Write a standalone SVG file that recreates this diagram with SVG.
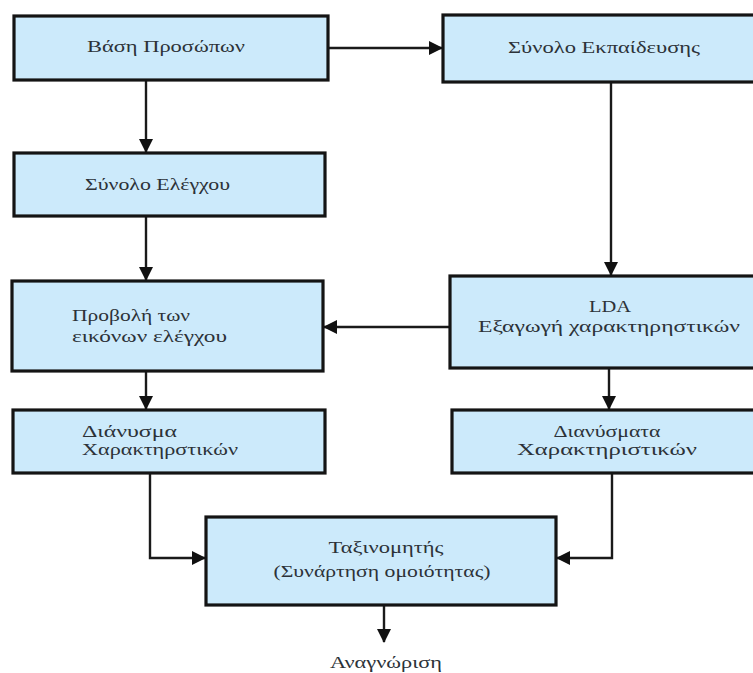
<svg xmlns="http://www.w3.org/2000/svg" width="753" height="673" viewBox="0 0 753 673">
  <defs>
    <marker id="arrow" viewBox="0 0 14 14" refX="13" refY="7" markerWidth="14" markerHeight="14" markerUnits="userSpaceOnUse" orient="auto">
      <path d="M0,0 L14,7 L0,14 z" fill="#111"/>
    </marker>
    <style>
      .box { fill: #cceafb; stroke: #141414; stroke-width: 3.2; }
      .lbl { font-family: "Liberation Serif", "DejaVu Serif", serif; font-size: 16px; fill: #2c3238; }
      .mid { text-anchor: middle; }
      .edge { fill: none; stroke: #1a1a1a; stroke-width: 2.4; marker-end: url(#arrow); }
    </style>
  </defs>

  <rect width="753" height="673" fill="#ffffff"/>

  <g id="connectors">
    <path class="edge" d="M328,48 H442"/>
    <path class="edge" d="M146,80 V152"/>
    <path class="edge" d="M146,216 V280"/>
    <path class="edge" d="M611,82 V275"/>
    <path class="edge" d="M450,327 H324"/>
    <path class="edge" d="M146,371 V409"/>
    <path class="edge" d="M609,368 V409"/>
    <path class="edge" d="M150,473 V558 H205"/>
    <path class="edge" d="M612,473 V558 H557"/>
    <path class="edge" d="M384,605 V642"/>
  </g>

  <g id="face-database">
    <rect class="box" x="14" y="16" width="314" height="64"/>
    <text class="lbl" x="87" y="52" textLength="158" lengthAdjust="spacingAndGlyphs">Βάση Προσώπων</text>
  </g>

  <g id="training-set">
    <rect class="box" x="443" y="15" width="320" height="67"/>
    <text class="lbl" x="508" y="53" textLength="192" lengthAdjust="spacingAndGlyphs">Σύνολο Εκπαίδευσης</text>
  </g>

  <g id="test-set">
    <rect class="box" x="14" y="153" width="311" height="63"/>
    <text class="lbl" x="85" y="190" textLength="145" lengthAdjust="spacingAndGlyphs">Σύνολο Ελέγχου</text>
  </g>

  <g id="projection">
    <rect class="box" x="12" y="281" width="311" height="90"/>
    <text class="lbl" x="72" y="321" textLength="118" lengthAdjust="spacingAndGlyphs">Προβολή των</text>
    <text class="lbl" x="72" y="342" textLength="155" lengthAdjust="spacingAndGlyphs">εικόνων ελέγχου</text>
  </g>

  <g id="lda">
    <rect class="box" x="450" y="276" width="313" height="92"/>
    <text class="lbl mid" x="610" y="312" textLength="42" lengthAdjust="spacingAndGlyphs">LDA</text>
    <text class="lbl" x="478" y="332" textLength="262" lengthAdjust="spacingAndGlyphs">Εξαγωγή χαρακτηρηστικών</text>
  </g>

  <g id="test-vector">
    <rect class="box" x="13" y="410" width="312" height="63"/>
    <text class="lbl" x="82" y="437" textLength="95" lengthAdjust="spacingAndGlyphs">Διάνυσμα</text>
    <text class="lbl" x="82" y="455" textLength="156" lengthAdjust="spacingAndGlyphs">Χαρακτηρστικών</text>
  </g>

  <g id="train-vectors">
    <rect class="box" x="452" y="410" width="311" height="63"/>
    <text class="lbl mid" x="607" y="437" textLength="107" lengthAdjust="spacingAndGlyphs">Διανύσματα</text>
    <text class="lbl mid" x="607" y="455" textLength="180" lengthAdjust="spacingAndGlyphs">Χαρακτηριστικών</text>
  </g>

  <g id="classifier">
    <rect class="box" x="206" y="517" width="350" height="88"/>
    <text class="lbl mid" x="386" y="553" textLength="115" lengthAdjust="spacingAndGlyphs">Ταξινομητής</text>
    <text class="lbl mid" x="382" y="577" textLength="217" lengthAdjust="spacingAndGlyphs">(Συνάρτηση ομοιότητας)</text>
  </g>

  <g id="recognition">
    <text class="lbl mid" x="386" y="668" textLength="112" lengthAdjust="spacingAndGlyphs">Αναγνώριση</text>
  </g>
</svg>
